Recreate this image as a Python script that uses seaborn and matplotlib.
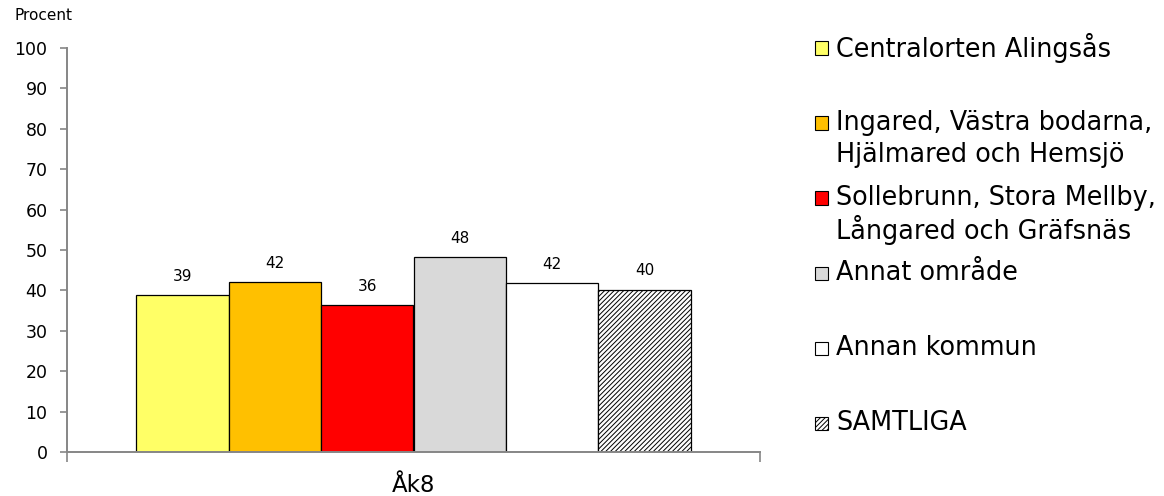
import matplotlib
matplotlib.use("Agg")
import matplotlib.pyplot as plt
import seaborn as sns
import pandas as pd
from matplotlib.patches import Rectangle

# Data
grade = ["Åk8"]
areas = [
    "Centralorten Alingsås",
    "Ingared, Västra bodarna,\nHjälmared och Hemsjö",
    "Sollebrunn, Stora Mellby,\nLångared och Gräfsnäs",
    "Annat område",
    "Annan kommun",
    "SAMTLIGA",
]
percent = [38.9, 42.1, 36.4, 48.3, 41.8, 40.2]
colors = ["#FFFF66", "#FFC000", "#FF0000", "#D9D9D9", "#FFFFFF", "#FFFFFF"]
hatches = ["", "", "", "", "", "///////"]

df = pd.DataFrame({"Årskurs": grade * len(areas), "Område": areas, "Procent": percent})

sns.set_style("white")
plt.rcParams["font.family"] = ["DejaVu Sans"]
plt.rcParams["hatch.linewidth"] = 0.7
plt.rcParams["text.color"] = "black"

W, H = 1164, 496
fig = plt.figure(figsize=(W / 100, H / 100), dpi=100)
ax = fig.add_axes([67 / W, 1 - 452 / H, (760 - 67) / W, (452 - 48) / H])

sns.barplot(data=df, x="Årskurs", y="Procent", hue="Område", hue_order=areas,
            palette=dict(zip(areas, colors)), saturation=1, width=0.8,
            edgecolor="black", linewidth=0.9, legend=False, ax=ax)

for patch, h in zip(ax.patches, hatches):
    if h:
        patch.set_hatch(h)

for cont in ax.containers:
    ax.bar_label(cont, fmt="%.0f", padding=8, fontsize=11, color="black")

ax.set_ylim(0, 100)
ax.set_xlim(-0.5, 0.5)
ax.set_yticks(range(0, 101, 10))
ax.set_xticks([-0.5, 0.5], minor=True)
ax.set_xlabel("")
ax.set_ylabel("")
ax.tick_params(axis="y", labelsize=12.5, labelcolor="black", length=5, width=1.2,
               color="#868686", direction="out", left=True, pad=9)
ax.tick_params(axis="x", which="major", labelsize=16.5, labelcolor="black", length=0, pad=16)
ax.tick_params(axis="x", which="minor", length=7, width=1.2, color="#868686",
               direction="out", bottom=True)
sns.despine(ax=ax)
for s in ["left", "bottom"]:
    ax.spines[s].set_color("#868686")
    ax.spines[s].set_linewidth(1.4)

fig.text(14 / W, 1 - 16 / H, "Procent", fontsize=11, va="center", ha="left")

# legend, built like the original: square next to the first line of each entry
for i, (lab, c, h) in enumerate(zip(areas, colors, hatches)):
    yc = 48 + 75 * i
    fig.add_artist(Rectangle((815 / W, 1 - (yc + 6.5) / H), 13 / W, 13 / H,
                             facecolor=c, edgecolor="black", hatch=h, linewidth=0.8,
                             transform=fig.transFigure))
    for j, line in enumerate(lab.split("\n")):
        fig.text(836 / W, 1 - (yc + 32 * j) / H, line, fontsize=18.4,
                 va="center", ha="left")

fig.savefig("out.png", dpi=100)
